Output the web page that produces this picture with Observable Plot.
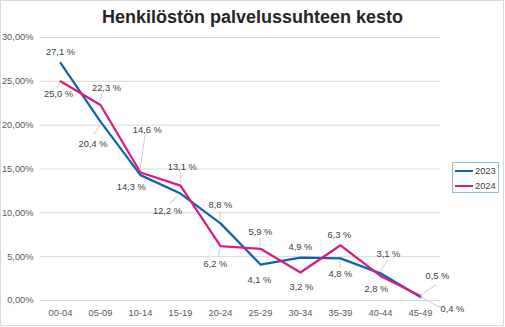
<!DOCTYPE html>
<html><head><meta charset="utf-8">
<script src="https://cdn.jsdelivr.net/npm/d3@7"></script>
<script src="https://cdn.jsdelivr.net/npm/@observablehq/plot@0.6"></script>
<style>
body{margin:0;background:#fff;}
#chart{position:relative;width:505px;height:327px;font-family:"Liberation Sans",Arial,sans-serif;overflow:hidden;}
#frame{position:absolute;left:0;top:0;width:504px;height:326px;box-sizing:border-box;border:1px solid #d9d9d9;pointer-events:none;}
#title{position:absolute;left:0;top:0;width:505px;height:34px;line-height:34px;text-align:center;font-size:18px;font-weight:bold;color:#262626;}
#plot{position:absolute;left:0;top:33px;}
#legend{position:absolute;left:452px;top:162px;width:47px;height:31px;box-sizing:border-box;border:1px solid #95b9dc;background:#fff;}
.lg-row{position:absolute;left:0;height:12px;width:46px;}
.lg-line{position:absolute;left:2px;top:5px;width:18px;height:2.25px;}
.lg-text{position:absolute;left:22px;top:0;font-size:9.3px;line-height:12px;color:#404040;}
</style>
</head><body>
<div id="chart">
  <div id="title"></div>
  <div id="plot"></div>
  <div id="legend"></div>
  <div id="frame"></div>
</div>
<script>
const titleText = "Henkilöstön palvelussuhteen kesto";
const categories = ["00-04","05-09","10-14","15-19","20-24","25-29","30-34","35-39","40-44","45-49"];
const values2023 = [27.1, 20.4, 14.3, 12.2, 8.8, 4.1, 4.9, 4.8, 3.1, 0.4];
const values2024 = [25.0, 22.3, 14.6, 13.1, 6.2, 5.9, 3.2, 6.3, 2.8, 0.5];
const seriesNames = ["2023", "2024"];
const yTicks = [0, 5, 10, 15, 20, 25, 30];

// styling: colours and label placement (pixel offsets from each point)
const seriesColors = ["#1064a6", "#da1c80"];
const labelOffsets2023 = [[0,-11],[-7.5,22],[-9.3,11.5],[-13,17],[0,-18],[-1,15],[0,-11],[0,16],[8,-19],[32,12]];
const labelOffsets2024 = [[-2,13],[6,-17],[6.7,-42.7],[1.7,-19],[-5,18],[0,-17],[1,15],[-1,-10.5],[-4,13],[17,-20.6]];
const leaders = [
  {s:"2024", i:0, pts:[[0,1],[-3,7]]},
  {s:"2024", i:1, pts:[[0,-4],[2,-11]]},
  {s:"2023", i:1, pts:[[0,4],[-6,13]]},
  {s:"2024", i:2, pts:[[0,-2],[5,-37]]},
  {s:"2024", i:3, pts:[[0,-3],[1,-13]]},
  {s:"2023", i:3, pts:[[-2,3],[-10,10]]},
  {s:"2023", i:4, pts:[[0,-3],[0,-12]]},
  {s:"2024", i:4, pts:[[0,3],[-2,11]]},
  {s:"2024", i:5, pts:[[0,-2],[0,-11]]},
  {s:"2023", i:7, pts:[[0,3],[0,10]]},
  {s:"2023", i:8, pts:[[0,-1],[8,-13]]},
  {s:"2024", i:9, pts:[[0,0],[16,-11]]},
  {s:"2023", i:9, pts:[[0,0],[18,10],[21,10]]}
];

const seriesValues = {"2023": values2023, "2024": values2024};
const seriesOffsets = {"2023": labelOffsets2023, "2024": labelOffsets2024};
const data = seriesNames.flatMap(s => categories.map((c, i) => ({cat: c, series: s, value: seriesValues[s][i], idx: i})));

const fmtTick = d => d.toFixed(2).replace(".", ",") + "%";
const fmtLabel = d => d.toFixed(1).replace(".", ",") + " %";

const labelMarks = data.map(d => Plot.text([d], {
  x: "cat", y: "value", text: dd => fmtLabel(dd.value),
  dx: seriesOffsets[d.series][d.idx][0], dy: seriesOffsets[d.series][d.idx][1],
  fill: "#404040", fontSize: 9.3
}));

const plot = Plot.plot({
  width: 505, height: 294,
  marginLeft: 40, marginRight: 65, marginTop: 4, marginBottom: 27,
  style: {fontFamily: '"Liberation Sans", Arial, sans-serif', fontSize: "9.3px", color: "#595959", background: "transparent", overflow: "visible"},
  x: {type: "point", domain: categories, padding: 0.5, label: null, tickSize: 0, tickPadding: 9},
  y: {domain: [0, 30], ticks: yTicks, tickFormat: fmtTick, label: null, tickSize: 0, tickPadding: 7},
  color: {domain: seriesNames, range: seriesColors},
  marks: [
    Plot.gridY(yTicks, {stroke: "#d9d9d9", strokeOpacity: 1}),
    ...seriesNames.map(s => Plot.line(data.filter(d => d.series === s), {x: "cat", y: "value", stroke: "series", strokeWidth: 2.25, strokeLinejoin: "miter"})),
    ...labelMarks
  ]
});

// leader lines positioned via the plot's own scales
const xs = plot.scale("x"), ys = plot.scale("y");
const g = d3.select(plot).append("g").attr("fill", "none").attr("stroke", "#bfbfbf").attr("stroke-width", 0.8);
leaders.forEach(l => {
  const px = xs.apply(categories[l.i]), py = ys.apply(seriesValues[l.s][l.i]);
  g.append("polyline").attr("points", l.pts.map(p => `${px + p[0]},${py + p[1]}`).join(" "));
});

document.getElementById("plot").appendChild(plot);
document.getElementById("title").textContent = titleText;

const legend = document.getElementById("legend");
seriesNames.forEach((s, k) => {
  const row = document.createElement("div");
  row.className = "lg-row";
  row.style.top = (1.5 + k * 15.5) + "px";
  const line = document.createElement("div");
  line.className = "lg-line";
  line.style.background = seriesColors[k];
  const t = document.createElement("div");
  t.className = "lg-text";
  t.textContent = s;
  row.appendChild(line); row.appendChild(t);
  legend.appendChild(row);
});
</script>
</body></html>
